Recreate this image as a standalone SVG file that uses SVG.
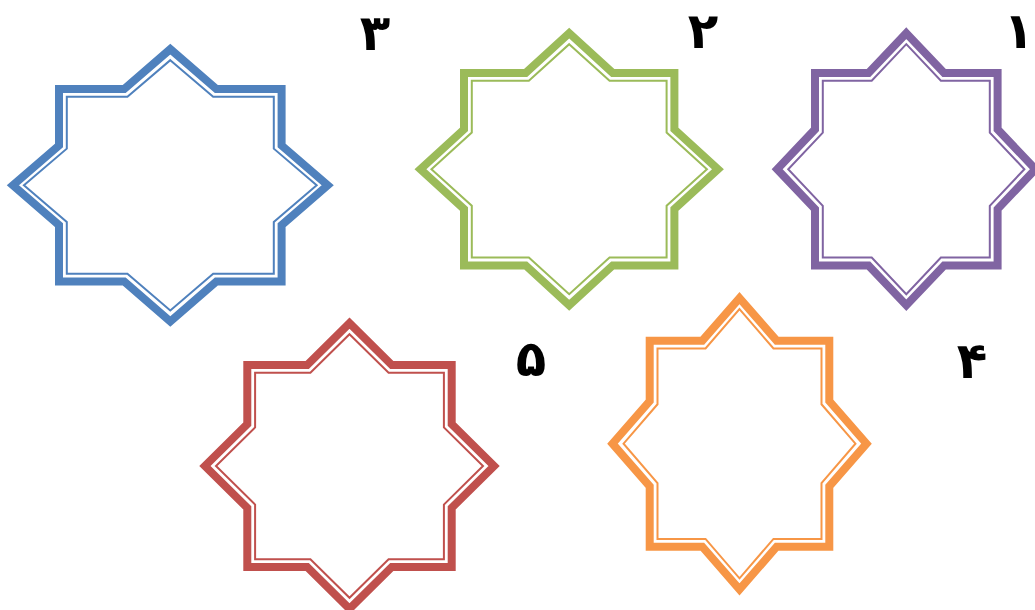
<svg xmlns="http://www.w3.org/2000/svg" xmlns:xlink="http://www.w3.org/1999/xlink" width="1035" height="610" viewBox="0 0 1035 610">
<style>
.thick{fill:none;stroke-width:8;stroke-linejoin:miter;stroke-miterlimit:10}
.thin{fill:none;stroke-width:2;stroke-linejoin:miter;stroke-miterlimit:10}
.blue{stroke:#4F81BD}.green{stroke:#9BBB59}.purple{stroke:#8064A2}.red{stroke:#C0504D}.orange{stroke:#F79646}
.num{font-family:"DejaVu Sans",sans-serif;font-weight:bold;font-size:50px;fill:#000}
</style>
<defs>
<path id="oct" vector-effect="non-scaling-stroke" d="M0,-1.41421 L0.41421,-1 L1,-1 L1,-0.41421 L1.41421,0 L1,0.41421 L1,1 L0.41421,1 L0,1.41421 L-0.41421,1 L-1,1 L-1,0.41421 L-1.41421,0 L-1,-0.41421 L-1,-1 L-0.41421,-1 Z"/>
</defs>
<rect width="1035" height="610" fill="#fff"/>
<g id="star3">
<use xlink:href="#oct" class="thick blue" transform="translate(170.3 185.3) scale(111.3 96.3)"/>
<use xlink:href="#oct" class="thin blue" transform="translate(170.3 185.3) scale(103.5 88.5)"/>
<text class="num" x="375" y="50" text-anchor="middle">۳</text>
</g>
<g id="star2">
<use xlink:href="#oct" class="thick green" transform="translate(569.2 169.2) scale(105.2 96.2)"/>
<use xlink:href="#oct" class="thin green" transform="translate(569.2 169.2) scale(97.4 88.4)"/>
<text class="num" x="703" y="48" text-anchor="middle">۲</text>
</g>
<g id="star1">
<use xlink:href="#oct" class="thick purple" transform="translate(906.3 169.2) scale(91.3 96.2)"/>
<use xlink:href="#oct" class="thin purple" transform="translate(906.3 169.2) scale(83.5 88.4)"/>
<text class="num" x="1034" y="48" text-anchor="end">۱</text>
</g>
<g id="star5">
<use xlink:href="#oct" class="thick red" transform="translate(349.5 466) scale(102.2 101)"/>
<use xlink:href="#oct" class="thin red" transform="translate(349.5 466) scale(94.4 93.2)"/>
<text class="num" x="531" y="376" text-anchor="middle">۵</text>
</g>
<g id="star4">
<use xlink:href="#oct" class="thick orange" transform="translate(739.5 443.7) scale(89.8 103)"/>
<use xlink:href="#oct" class="thin orange" transform="translate(739.5 443.7) scale(82 95.2)"/>
<text class="num" x="972" y="378" text-anchor="middle">۴</text>
</g>
<g id="connectors"/>
</svg>
